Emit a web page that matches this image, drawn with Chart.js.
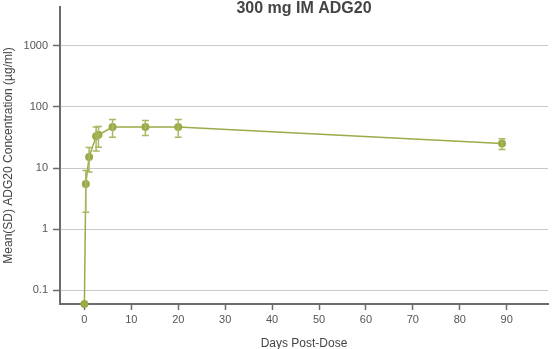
<!DOCTYPE html>
<html>
<head>
<meta charset="utf-8">
<script src="https://cdn.jsdelivr.net/npm/chart.js@4"></script>
<style>
  html, body { margin: 0; padding: 0; background: #fff; }
  #wrap { width: 552px; height: 349px; position: relative; }
</style>
</head>
<body>
<div id="wrap"><canvas id="pk"></canvas></div>
<script>
// data
const days = [0, 0.3, 1, 2.5, 3, 6, 13, 20, 89];
const meanConc = [0.06, 5.5, 15.2, 33, 35, 47, 47, 47, 25.2];
const sdConc = [null, 3.6, 6.6, 14, 13, 15, 13, 15, 5];
const yTicks = [0.1, 1, 10, 100, 1000];
const xTicks = [0, 10, 20, 30, 40, 50, 60, 70, 80, 90];

const green = "#9aab48";
const axisGrey = "#6b6b6b";
const font = "'Liberation Sans', Arial, sans-serif";

// error bars, drawn from the scales
const errorBars = {
    id: "errorBars",
    afterDatasetsDraw(chart) {
        const { ctx, scales: { x, y } } = chart;
        ctx.save();
        ctx.strokeStyle = "#a9b862";
        ctx.lineWidth = 1.5;
        days.forEach((d, i) => {
            const sd = sdConc[i];
            if (!sd) return;
            const px = x.getPixelForValue(d);
            const lo = Math.max(meanConc[i] - sd, y.min);
            const yTop = y.getPixelForValue(meanConc[i] + sd);
            const yBot = y.getPixelForValue(lo);
            ctx.beginPath();
            ctx.moveTo(px, yTop);
            ctx.lineTo(px, yBot);
            ctx.moveTo(px - 3.5, yTop);
            ctx.lineTo(px + 3.5, yTop);
            ctx.moveTo(px - 3.5, yBot);
            ctx.lineTo(px + 3.5, yBot);
            ctx.stroke();
        });
        ctx.restore();
    }
};

// title sits over the top of the plot
const topTitle = {
    id: "topTitle",
    afterDraw(chart) {
        const { ctx, chartArea } = chart;
        ctx.save();
        ctx.font = "bold 16px " + font;
        ctx.fillStyle = "#444";
        ctx.textAlign = "center";
        ctx.textBaseline = "middle";
        ctx.fillText("300 mg IM ADG20", (chartArea.left + chartArea.right) / 2, 9);
        ctx.restore();
    }
};

new Chart(document.getElementById("pk"), {
    type: "line",
    data: {
        datasets: [{
            data: days.map((d, i) => ({ x: d, y: meanConc[i] })),
            borderColor: green,
            backgroundColor: green,
            borderWidth: 1.5,
            pointRadius: 4,
            pointBorderWidth: 0,
            pointBackgroundColor: green,
            tension: 0,
            clip: false
        }]
    },
    options: {
        responsive: true,
        maintainAspectRatio: false,
        animation: false,
        layout: { padding: { top: 7, right: 0, left: 0, bottom: 0 } },
        plugins: {
            legend: { display: false },
            tooltip: { enabled: false },
            title: { display: false }
        },
        scales: {
            x: {
                type: "linear",
                min: -5.2,
                max: 98.8,
                afterBuildTicks: s => { s.ticks = xTicks.map(v => ({ value: v })); },
                afterFit: s => { s.height = 45; s.paddingLeft = 0; s.paddingRight = 0; },
                border: { display: true, color: axisGrey, width: 2 },
                grid: { drawOnChartArea: false, tickLength: 6, tickColor: axisGrey, tickWidth: 1.5 },
                ticks: { color: "#555", font: { family: font, size: 11 }, padding: 3 },
                title: {
                    display: true,
                    text: "Days Post-Dose",
                    color: "#444",
                    font: { family: font, size: 12 },
                    padding: { top: 0, bottom: -2 }
                }
            },
            y: {
                type: "logarithmic",
                min: 0.06,
                max: 4300,
                afterBuildTicks: s => { s.ticks = yTicks.map(v => ({ value: v })); },
                afterFit: s => { s.width = 60; s.paddingTop = 0; s.paddingBottom = 0; },
                border: { display: true, color: axisGrey, width: 2 },
                grid: { color: "#c8c8c8", lineWidth: 1, tickLength: 7, tickColor: axisGrey, tickWidth: 1.5 },
                ticks: {
                    color: "#555",
                    font: { family: font, size: 11 },
                    padding: 5,
                    callback: v => String(v)
                },
                title: {
                    display: true,
                    text: "Mean(SD) ADG20 Concentration (µg/ml)",
                    color: "#444",
                    font: { family: font, size: 12 },
                    padding: { top: 1, bottom: 0 }
                }
            }
        }
    },
    plugins: [errorBars, topTitle]
});
</script>
</body>
</html>
